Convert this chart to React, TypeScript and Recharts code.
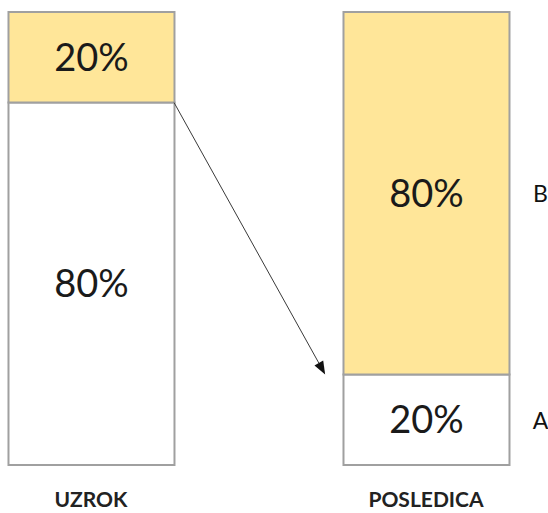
import React from "react";
import {
	BarChart,
	Bar,
	XAxis,
	YAxis,
	LabelList,
	ReferenceLine,
} from "recharts";

const categories = ["UZROK", "POSLEDICA"];
const seriesA = [80, 20]; // bottom, white
const seriesB = [20, 80]; // top, yellow

const data = categories.map((name, i) => ({
	pos: i,
	name,
	A: seriesA[i],
	B: seriesB[i],
}));

const FONT = "Lato, 'Open Sans', sans-serif";
const BAR_SIZE = 166;

// arrow from the top of UZROK's white block to the top of POSLEDICA's white block
const arrowSegment = [
	{ x: 0.248, y: seriesA[0] },
	{ x: 0.699, y: seriesA[1] },
];

const Arrow = (props: any) => {
	const { x1, y1, x2, y2 } = props;
	if ([x1, y1, x2, y2].some((v) => typeof v !== "number")) return null;
	const ang = Math.atan2(y2 - y1, x2 - x1);
	const len = 13;
	const half = 5;
	const bx = x2 - len * Math.cos(ang);
	const by = y2 - len * Math.sin(ang);
	const px = -Math.sin(ang) * half;
	const py = Math.cos(ang) * half;
	return (
		<g>
			<line x1={x1} y1={y1} x2={bx} y2={by} stroke="#3a3a3a" strokeWidth={1} />
			<polygon
				points={`${x2},${y2} ${bx + px},${by + py} ${bx - px},${by - py}`}
				fill="#111"
			/>
		</g>
	);
};

const Tick = ({ x, payload }: any) => (
	<text
		x={x}
		y={507}
		textAnchor="middle"
		fontFamily={FONT}
		fontWeight={700}
		fontSize={21}
		fill="#222"
	>
		{categories[payload.value]}
	</text>
);

const sideLabel = (name: string) => (props: any) => {
	const { x, y, width, height, index } = props;
	if (index !== 1) return null;
	return (
		<text
			x={x + width + 31}
			y={y + height / 2}
			textAnchor="middle"
			dominantBaseline="central"
			fontFamily={FONT}
			fontSize={23}
			fill="#111"
		>
			{name}
		</text>
	);
};

export default function App() {
	return (
		<div style={{ position: "absolute", left: 0, top: 0 }}>
			<BarChart
				width={548}
				height={513}
				data={data}
				margin={{ top: 12, right: 0, bottom: 0, left: 0 }}
			>
				<XAxis
					dataKey="pos"
					type="number"
					domain={[-0.2716, 1.3642]}
					ticks={[0, 1]}
					axisLine={false}
					tickLine={false}
					height={48}
					tick={<Tick />}
					allowDataOverflow
				/>
				<YAxis hide domain={[0, 100]} />
				<Bar
					dataKey="A"
					stackId="s"
					fill="#ffffff"
					stroke="#a0a0a0"
					strokeWidth={2}
					barSize={BAR_SIZE}
					isAnimationActive={false}
				>
					<LabelList
						dataKey="A"
						position="center"
						formatter={(v: any) => `${v}%`}
						fontFamily={FONT}
						fontSize={38}
						fill="#1a1a1a"
					/>
					<LabelList dataKey="A" content={sideLabel("A")} />
				</Bar>
				<Bar
					dataKey="B"
					stackId="s"
					fill="#ffe699"
					stroke="#a0a0a0"
					strokeWidth={2}
					barSize={BAR_SIZE}
					isAnimationActive={false}
				>
					<LabelList
						dataKey="B"
						position="center"
						formatter={(v: any) => `${v}%`}
						fontFamily={FONT}
						fontSize={38}
						fill="#1a1a1a"
					/>
					<LabelList dataKey="B" content={sideLabel("B")} />
				</Bar>
				<ReferenceLine
					segment={arrowSegment}
					shape={<Arrow />}
					ifOverflow="visible"
				/>
			</BarChart>
		</div>
	);
}
